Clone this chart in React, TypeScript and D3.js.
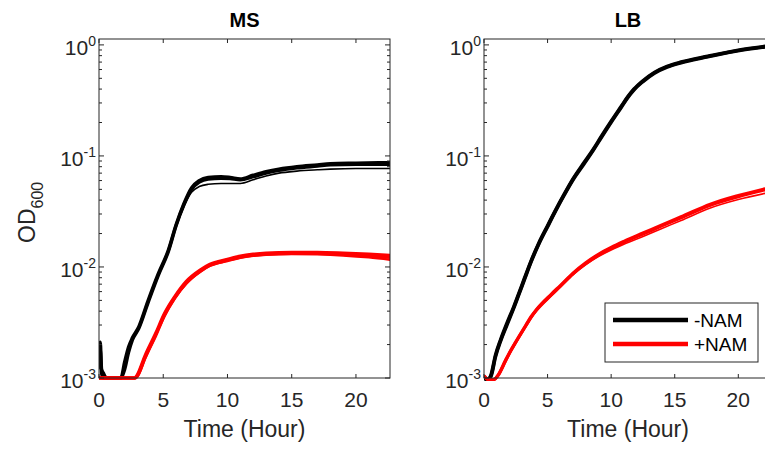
import React, { useEffect, useRef } from "react";
import * as d3 from "d3";

// MS medium, -NAM (black) replicates
const msTimeBlack = [0, 0.1, 0.2, 0.35, 0.6, 1.7, 2.0, 2.3, 2.6, 3.1, 3.8, 4.6, 5.4, 6.0, 6.6, 7.2, 7.8, 8.5, 9.5, 10.2, 11.0, 12.0, 13.0, 14.0, 15.4, 17.0, 18.0, 20.0, 22.7];
const msBlackA = [0.0013, 0.0021, 0.0012, 0.0011, 0.001, 0.001, 0.0014, 0.0019, 0.0023, 0.0029, 0.0049, 0.0086, 0.0142, 0.024, 0.037, 0.0516, 0.060, 0.064, 0.065, 0.064, 0.062, 0.067, 0.072, 0.076, 0.080, 0.083, 0.085, 0.086, 0.087];
const msBlackB = [0.0015, 0.0018, 0.0011, 0.001, 0.001, 0.001, 0.0012, 0.0017, 0.0022, 0.0028, 0.0047, 0.0083, 0.0138, 0.0235, 0.036, 0.050, 0.058, 0.062, 0.063, 0.0625, 0.061, 0.065, 0.070, 0.074, 0.078, 0.081, 0.083, 0.084, 0.084];
const msBlackC = [0.0012, 0.0016, 0.0011, 0.001, 0.001, 0.001, 0.0013, 0.0017, 0.0022, 0.0028, 0.0047, 0.0084, 0.0138, 0.0232, 0.035, 0.047, 0.053, 0.0555, 0.0565, 0.0565, 0.0565, 0.061, 0.066, 0.070, 0.073, 0.075, 0.076, 0.077, 0.077];

// MS medium, +NAM (red) replicates
const msTimeRed = [0, 2.8, 2.95, 3.6, 4.4, 5.1, 5.9, 6.8, 7.9, 8.6, 10.0, 11.0, 12.0, 13.0, 15.0, 17.0, 19.0, 21.0, 22.7];
const msRedA = [0.001, 0.001, 0.00105, 0.0016, 0.0025, 0.0038, 0.0054, 0.0074, 0.0094, 0.0105, 0.0117, 0.0125, 0.0130, 0.0133, 0.0135, 0.0135, 0.0133, 0.0130, 0.0127];
const msRedB = [0.001, 0.001, 0.00103, 0.00155, 0.0024, 0.0037, 0.0053, 0.0072, 0.0092, 0.0103, 0.0115, 0.0123, 0.0128, 0.0131, 0.0133, 0.0133, 0.0130, 0.0126, 0.0122];
const msRedC = [0.001, 0.001, 0.00102, 0.0015, 0.0024, 0.0036, 0.0052, 0.0071, 0.0091, 0.0102, 0.0113, 0.0121, 0.0126, 0.0129, 0.0131, 0.0130, 0.0127, 0.0122, 0.0116];

// LB medium, -NAM (black) replicates
const lbTimeBlack = [0, 0.3, 0.55, 0.9, 1.3, 1.8, 2.35, 2.75, 3.2, 3.7, 4.3, 5.0, 5.6, 6.3, 7.0, 7.9, 8.6, 9.2, 10.0, 10.8, 11.3, 11.8, 12.5, 13.4, 14.4, 15.5, 17.6, 20.2, 22.7];
const lbBlackA = [0.001, 0.00096, 0.00106, 0.0016, 0.0022, 0.0031, 0.0044, 0.0058, 0.0080, 0.0113, 0.0163, 0.0235, 0.032, 0.045, 0.062, 0.088, 0.115, 0.148, 0.205, 0.28, 0.34, 0.40, 0.475, 0.565, 0.64, 0.70, 0.79, 0.905, 0.99];
const lbBlackB = [0.001, 0.00098, 0.00104, 0.00155, 0.00215, 0.0030, 0.0043, 0.0057, 0.0078, 0.0111, 0.0160, 0.0231, 0.0315, 0.0443, 0.061, 0.086, 0.113, 0.145, 0.201, 0.275, 0.335, 0.395, 0.468, 0.557, 0.632, 0.692, 0.782, 0.895, 0.98];

// LB medium, +NAM (red) replicates
const lbTimeRed = [0, 0.4, 0.8, 1.1, 1.7, 2.1, 2.5, 3.3, 3.7, 4.1, 5.3, 6.0, 7.0, 8.0, 9.0, 10.0, 11.0, 12.6, 13.9, 15.5, 17.8, 20.0, 22.7];
const lbRedA = [0.00105, 0.00096, 0.00097, 0.00106, 0.00145, 0.00177, 0.00212, 0.0030, 0.00356, 0.0041, 0.0057, 0.0068, 0.0088, 0.0109, 0.0130, 0.0150, 0.0170, 0.0204, 0.0237, 0.0283, 0.0368, 0.0440, 0.0525];
const lbRedB = [0.00103, 0.00097, 0.00098, 0.00104, 0.0014, 0.00172, 0.00205, 0.0029, 0.00345, 0.0040, 0.0055, 0.0066, 0.0085, 0.0105, 0.0124, 0.0142, 0.0160, 0.0190, 0.0220, 0.0262, 0.0340, 0.0405, 0.0475];
const lbRedC = [0.00104, 0.00096, 0.00097, 0.00105, 0.00143, 0.00175, 0.0021, 0.00297, 0.00352, 0.00405, 0.0056, 0.0067, 0.0087, 0.0107, 0.0128, 0.0147, 0.0167, 0.0200, 0.0232, 0.0277, 0.0360, 0.0430, 0.0512];

const xTicks = [0, 5, 10, 15, 20];
const yTicks = [0.001, 0.01, 0.1, 1];
const yTickExp = ["-3", "-2", "-1", "0"];
const legendLabels = ["-NAM", "+NAM"];
const seriesColors = ["#000000", "#ff0000"];
const panelTitles = ["MS", "LB"];

const xMax = 22.65;
const yMax = 1.13;
const top = 39;
const bottom = 378;
const ink = "#262626";
const font = "'Liberation Sans', Arial, Helvetica, sans-serif";

const panels = [
  {
    title: panelTitles[0], left: 99, right: 390,
    series: [
      { time: msTimeBlack, reps: [msBlackC, msBlackB, msBlackA], widths: [1.6, 3.4, 3.4], color: seriesColors[0] },
      { time: msTimeRed, reps: [msRedC, msRedB, msRedA], widths: [2.4, 3.4, 3.4], color: seriesColors[1] },
    ],
  },
  {
    title: panelTitles[1], left: 484, right: 772,
    series: [
      { time: lbTimeBlack, reps: [lbBlackB, lbBlackA], widths: [3.6, 3.6], color: seriesColors[0] },
      { time: lbTimeRed, reps: [lbRedB, lbRedC, lbRedA], widths: [1.6, 3.2, 3.2], color: seriesColors[1] },
    ],
  },
];

const App = () => {
  const ref = useRef<SVGSVGElement>(null);

  useEffect(() => {
    const svg = d3.select(ref.current);
    svg.selectAll("*").remove();

    const y = d3.scaleLog().domain([0.001, yMax]).range([bottom, top]);

    // minor log ticks 2..9 per decade
    const minor: number[] = [];
    [0.001, 0.01, 0.1, 1].forEach((d) => {
      for (let m = 2; m <= 9; m++) if (d * m <= yMax) minor.push(d * m);
    });

    panels.forEach((p, i) => {
      const x = d3.scaleLinear().domain([0, xMax]).range([p.left, p.right]);
      const g = svg.append("g");

      g.append("clipPath").attr("id", "clip" + i)
        .append("rect")
        .attr("x", p.left).attr("y", top - 3)
        .attr("width", p.right - p.left).attr("height", bottom - top + 6);

      const lines = g.append("g").attr("clip-path", `url(#clip${i})`);
      p.series.forEach((s) => {
        const line = d3.line<number>()
          .x((_, k) => x(s.time[k]))
          .y((d) => y(d))
          .curve(d3.curveMonotoneX);
        s.reps.forEach((r, k) => {
          lines.append("path")
            .attr("d", line(r))
            .attr("fill", "none")
            .attr("stroke", s.color)
            .attr("stroke-width", s.widths[k])
            .attr("stroke-linejoin", "round");
        });
      });

      // box
      g.append("rect")
        .attr("x", p.left).attr("y", top)
        .attr("width", p.right - p.left).attr("height", bottom - top)
        .attr("fill", "none").attr("stroke", ink).attr("stroke-width", 1);

      // x ticks top and bottom
      xTicks.forEach((t) => {
        g.append("line").attr("x1", x(t)).attr("x2", x(t)).attr("y1", bottom).attr("y2", bottom - 4).attr("stroke", ink);
        g.append("line").attr("x1", x(t)).attr("x2", x(t)).attr("y1", top).attr("y2", top + 4).attr("stroke", ink);
        g.append("text")
          .attr("x", x(t)).attr("y", 407)
          .attr("text-anchor", "middle")
          .attr("font-size", 21).attr("font-family", font).attr("fill", ink)
          .text(t);
      });

      // y ticks
      yTicks.forEach((v, k) => {
        g.append("line").attr("x1", p.left).attr("x2", p.left + 5).attr("y1", y(v)).attr("y2", y(v)).attr("stroke", ink);
        g.append("line").attr("x1", p.right).attr("x2", p.right - 5).attr("y1", y(v)).attr("y2", y(v)).attr("stroke", ink);
        const txt = g.append("text")
          .attr("x", p.left - 3).attr("y", y(v) + 10)
          .attr("text-anchor", "end")
          .attr("font-size", 21).attr("font-family", font).attr("fill", ink);
        txt.append("tspan").text("10");
        txt.append("tspan").attr("dy", -9).attr("font-size", 14).text(yTickExp[k]);
      });
      minor.forEach((v) => {
        g.append("line").attr("x1", p.left).attr("x2", p.left + 3).attr("y1", y(v)).attr("y2", y(v)).attr("stroke", ink);
        g.append("line").attr("x1", p.right).attr("x2", p.right - 3).attr("y1", y(v)).attr("y2", y(v)).attr("stroke", ink);
      });

      // title
      g.append("text")
        .attr("x", (p.left + p.right) / 2).attr("y", 27)
        .attr("text-anchor", "middle")
        .attr("font-size", 20).attr("font-weight", "bold")
        .attr("font-family", font).attr("fill", "#000")
        .text(p.title);

      // x label
      g.append("text")
        .attr("x", (p.left + p.right) / 2).attr("y", 437)
        .attr("text-anchor", "middle")
        .attr("font-size", 23).attr("font-family", font).attr("fill", ink)
        .text("Time (Hour)");
    });

    // y label
    const yl = svg.append("text")
      .attr("transform", "translate(35,243) rotate(-90)")
      .attr("font-size", 23).attr("font-family", font).attr("fill", ink);
    yl.append("tspan").text("OD");
    yl.append("tspan").attr("dy", 8).attr("font-size", 16).text("600");

    // legend
    const lg = svg.append("g");
    lg.append("rect")
      .attr("x", 605).attr("y", 303).attr("width", 153).attr("height", 59)
      .attr("fill", "#fff").attr("stroke", ink).attr("stroke-width", 1);
    legendLabels.forEach((lab, k) => {
      const ly = 320 + k * 24;
      lg.append("line")
        .attr("x1", 613).attr("x2", 688).attr("y1", ly).attr("y2", ly)
        .attr("stroke", seriesColors[k]).attr("stroke-width", 4.5);
      lg.append("text")
        .attr("x", 694).attr("y", ly + 7)
        .attr("font-size", 19).attr("font-family", font).attr("fill", "#000")
        .text(lab);
    });
  }, []);

  return (
    <svg
      ref={ref}
      width={765}
      height={449}
      style={{ position: "absolute", left: 0, top: 0, background: "#fff" }}
    />
  );
};

export default App;
